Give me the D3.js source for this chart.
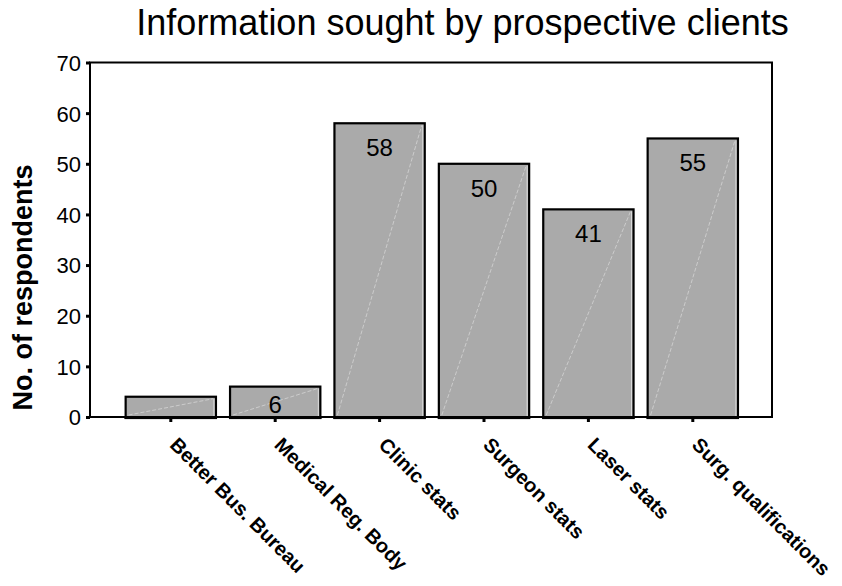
<!DOCTYPE html>
<html>
<head>
<meta charset="utf-8">
<script src="https://cdn.jsdelivr.net/npm/d3@7"></script>
<style>
    body { margin: 0; background: #fff; }
    svg { display: block; font-family: "Liberation Sans", Arial, sans-serif; }
</style>
</head>
<body>
<div id="chart"></div>
<script>
// chart data
var categories = ["Better Bus. Bureau", "Medical Reg. Body", "Clinic stats",
    "Surgeon stats", "Laser stats", "Surg. qualifications"];
var counts = [4, 6, 58, 50, 41, 55];
var yTicks = [0, 10, 20, 30, 40, 50, 60, 70];
var title = "Information sought by prospective clients";
var yTitle = "No. of respondents";

function drawChart() {
    "use strict";
    var width = 842, height = 586;
    var frame = {left: 90, right: 772, top: 62.5, bottom: 417};

    var svg = d3.select("#chart").append("svg")
        .attr("width", width)
        .attr("height", height);

    var x = d3.scaleBand()
        .domain(categories)
        .range([118.6, 745])
        .paddingInner(0.135)
        .paddingOuter(0.0675);

    var y = d3.scaleLinear()
        .domain([0, 70])
        .range([frame.bottom, frame.top]);

    // title
    svg.append("text")
        .attr("x", 462.5)
        .attr("y", 35)
        .attr("text-anchor", "middle")
        .style("font-size", "36px")
        .text(title);

    // y axis title
    svg.append("text")
        .attr("transform", "translate(32,287.5) rotate(-90)")
        .attr("text-anchor", "middle")
        .style("font-size", "27px")
        .style("font-weight", "bold")
        .text(yTitle);

    // bars
    var bars = svg.append("g").selectAll("g.bar")
        .data(counts)
        .enter()
        .append("g")
        .attr("class", "bar");

    bars.append("rect")
        .attr("x", function(d, i) { return x(categories[i]); })
        .attr("y", function(d) { return y(d); })
        .attr("width", x.bandwidth())
        .attr("height", function(d) { return frame.bottom - y(d) + 1; })
        .attr("fill", "#aaaaaa")
        .attr("stroke", "#000")
        .attr("stroke-width", 2.2);

    // faint diagonal streak inside each bar
    bars.append("line")
        .attr("x1", function(d, i) { return x(categories[i]) + 3; })
        .attr("y1", frame.bottom - 2)
        .attr("x2", function(d, i) { return x(categories[i]) + x.bandwidth() - 3; })
        .attr("y2", function(d) { return y(d) + 2; })
        .attr("stroke", "#d4d4d4")
        .attr("stroke-width", 0.8)
        .attr("stroke-dasharray", "4,2");

    // light line inside right edge
    bars.append("line")
        .attr("x1", function(d, i) { return x(categories[i]) + x.bandwidth() - 2; })
        .attr("x2", function(d, i) { return x(categories[i]) + x.bandwidth() - 2; })
        .attr("y1", function(d) { return y(d) + 2; })
        .attr("y2", frame.bottom - 1)
        .attr("stroke", "#e8e8e8")
        .attr("stroke-width", 0.8);

    // value labels (only where the bar is tall enough)
    bars.filter(function(d) { return frame.bottom - y(d) > 25; })
        .append("text")
        .attr("x", function(d) { return x(categories[counts.indexOf(d)]) + x.bandwidth() / 2; })
        .attr("y", function(d) { return Math.min(y(d) + 33, frame.bottom - 4); })
        .attr("text-anchor", "middle")
        .style("font-size", "24px")
        .text(function(d) { return d; });

    // plot frame
    svg.append("rect")
        .attr("x", frame.left)
        .attr("y", frame.top)
        .attr("width", frame.right - frame.left)
        .attr("height", frame.bottom - frame.top)
        .attr("fill", "none")
        .attr("stroke", "#000")
        .attr("stroke-width", 2);

    // bottom bar edges sit on a heavier base
    bars.append("line")
        .attr("x1", function(d, i) { return x(categories[i]) - 1; })
        .attr("x2", function(d, i) { return x(categories[i]) + x.bandwidth() + 1; })
        .attr("y1", frame.bottom + 0.5)
        .attr("y2", frame.bottom + 0.5)
        .attr("stroke", "#000")
        .attr("stroke-width", 3);

    // y axis
    var yAxis = svg.append("g")
        .attr("transform", "translate(" + frame.left + ",0)")
        .call(d3.axisLeft(y).tickValues(yTicks).tickSize(4).tickPadding(5));
    yAxis.select(".domain").remove();
    yAxis.selectAll(".tick line").attr("stroke-width", 3);
    yAxis.selectAll(".tick text")
        .style("font-size", "22px")
        .style("font-family", "\"Liberation Sans\", Arial, sans-serif")
        .attr("dy", "0.36em")
        .attr("fill", "#000");

    // x axis ticks and rotated labels
    var xAxis = svg.append("g")
        .attr("transform", "translate(0," + (frame.bottom + 1) + ")")
        .call(d3.axisBottom(x).tickSize(4).tickFormat(""));
    xAxis.select(".domain").remove();
    xAxis.selectAll(".tick line").attr("stroke-width", 3);

    svg.append("g").selectAll("text")
        .data(categories)
        .enter()
        .append("text")
        .attr("transform", function(d) {
            return "translate(" + (x(d) + x.bandwidth() / 2 - 2) + ",446) rotate(45)";
        })
        .attr("text-anchor", "start")
        .style("font-size", "20px")
        .style("font-weight", "bold")
        .text(function(d) { return d; });
}

drawChart();
</script>
</body>
</html>
